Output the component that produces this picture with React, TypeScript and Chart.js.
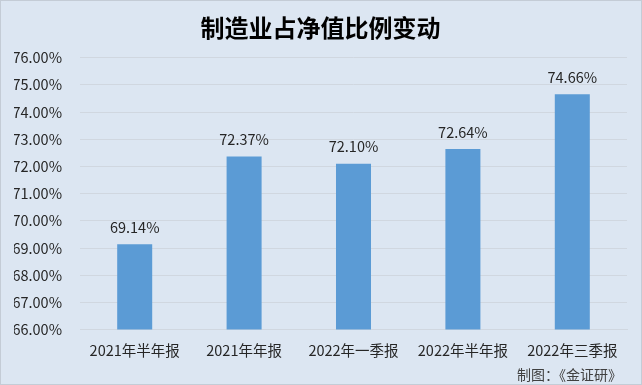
import React, { useEffect, useRef } from "react";
import { Chart, registerables } from "chart.js";

Chart.register(...registerables);

const categories = ["2021年半年报", "2021年年报", "2022年一季报", "2022年半年报", "2022年三季报"];
const values = [69.14, 72.37, 72.1, 72.64, 74.66];
const yMin = 66;
const yMax = 76;
const yStep = 1;
const titleText = "制造业占净值比例变动";
const sourceText = "制图：《金证研》";

const FONT = "'Noto Sans CJK SC', 'Noto Sans', sans-serif";

const bgPlugin = {
  id: "bg",
  beforeDraw(chart: any) {
    const { ctx, width, height } = chart;
    ctx.save();
    ctx.fillStyle = "#dce6f2";
    ctx.fillRect(0, 0, width, height);
    ctx.strokeStyle = "#c4ccd6";
    ctx.lineWidth = 1;
    ctx.strokeRect(0.5, 0.5, width - 1, height - 1);
    ctx.restore();
  },
};

const labelPlugin = {
  id: "valueLabels",
  afterDatasetsDraw(chart: any) {
    const { ctx } = chart;
    const meta = chart.getDatasetMeta(0);
    ctx.save();
    ctx.fillStyle = "#262626";
    ctx.font = `14.5px ${FONT}`;
    ctx.textAlign = "center";
    ctx.textBaseline = "middle";
    meta.data.forEach((el: any, i: number) => {
      ctx.fillText(values[i].toFixed(2) + "%", el.x, el.y - 17);
    });
    ctx.restore();
  },
};

const sourcePlugin = {
  id: "source",
  afterDraw(chart: any) {
    const { ctx, width, height } = chart;
    ctx.save();
    ctx.fillStyle = "#404040";
    ctx.font = `14px ${FONT}`;
    ctx.textAlign = "right";
    ctx.textBaseline = "middle";
    ctx.fillText(sourceText, width - 20, height - 10);
    ctx.restore();
  },
};

export default function App() {
  const ref = useRef<HTMLCanvasElement | null>(null);
  useEffect(() => {
    if (!ref.current) return;
    const chart = new Chart(ref.current, {
      type: "bar",
      data: {
        labels: categories,
        datasets: [
          {
            data: values,
            backgroundColor: "#5b9bd5",
            borderWidth: 0,
            categoryPercentage: 1,
            barPercentage: 0.32,
          },
        ],
      },
      options: {
        animation: false,
        responsive: false,
        devicePixelRatio: 1,
        layout: { padding: { left: 14, right: 15, top: 4, bottom: 14 } },
        plugins: {
          legend: { display: false },
          tooltip: { enabled: false },
          title: {
            display: true,
            text: titleText,
            color: "#000000",
            font: { family: FONT, size: 24, weight: "bold" },
            padding: { top: 9, bottom: 16 },
          },
        },
        scales: {
          x: {
            grid: { display: false, drawTicks: false },
            border: { display: true, color: "#d0d7e0" },
            ticks: {
              color: "#262626",
              font: { family: FONT, size: 14.5 },
              padding: 12,
              maxRotation: 0,
              autoSkip: false,
            },
            afterFit: (scale: any) => {
              scale.paddingLeft = 0;
              scale.paddingRight = 0;
            },
          },
          y: {
            min: yMin,
            max: yMax,
            grid: { color: "#d0d7e0", drawTicks: false },
            border: { display: false },
            ticks: {
              stepSize: yStep,
              color: "#262626",
              font: { family: FONT, size: 14.5 },
              padding: 18,
              callback: (v: any) => Number(v).toFixed(2) + "%",
            },
            afterFit: (scale: any) => {
              scale.width = 66;
            },
          },
        },
      },
      plugins: [bgPlugin, labelPlugin, sourcePlugin],
    });
    return () => chart.destroy();
  }, []);
  return (
    <div style={{ position: "fixed", left: 0, top: 0, width: 642, height: 385 }}>
      <canvas ref={ref} width={642} height={385} style={{ display: "block" }} />
    </div>
  );
}
